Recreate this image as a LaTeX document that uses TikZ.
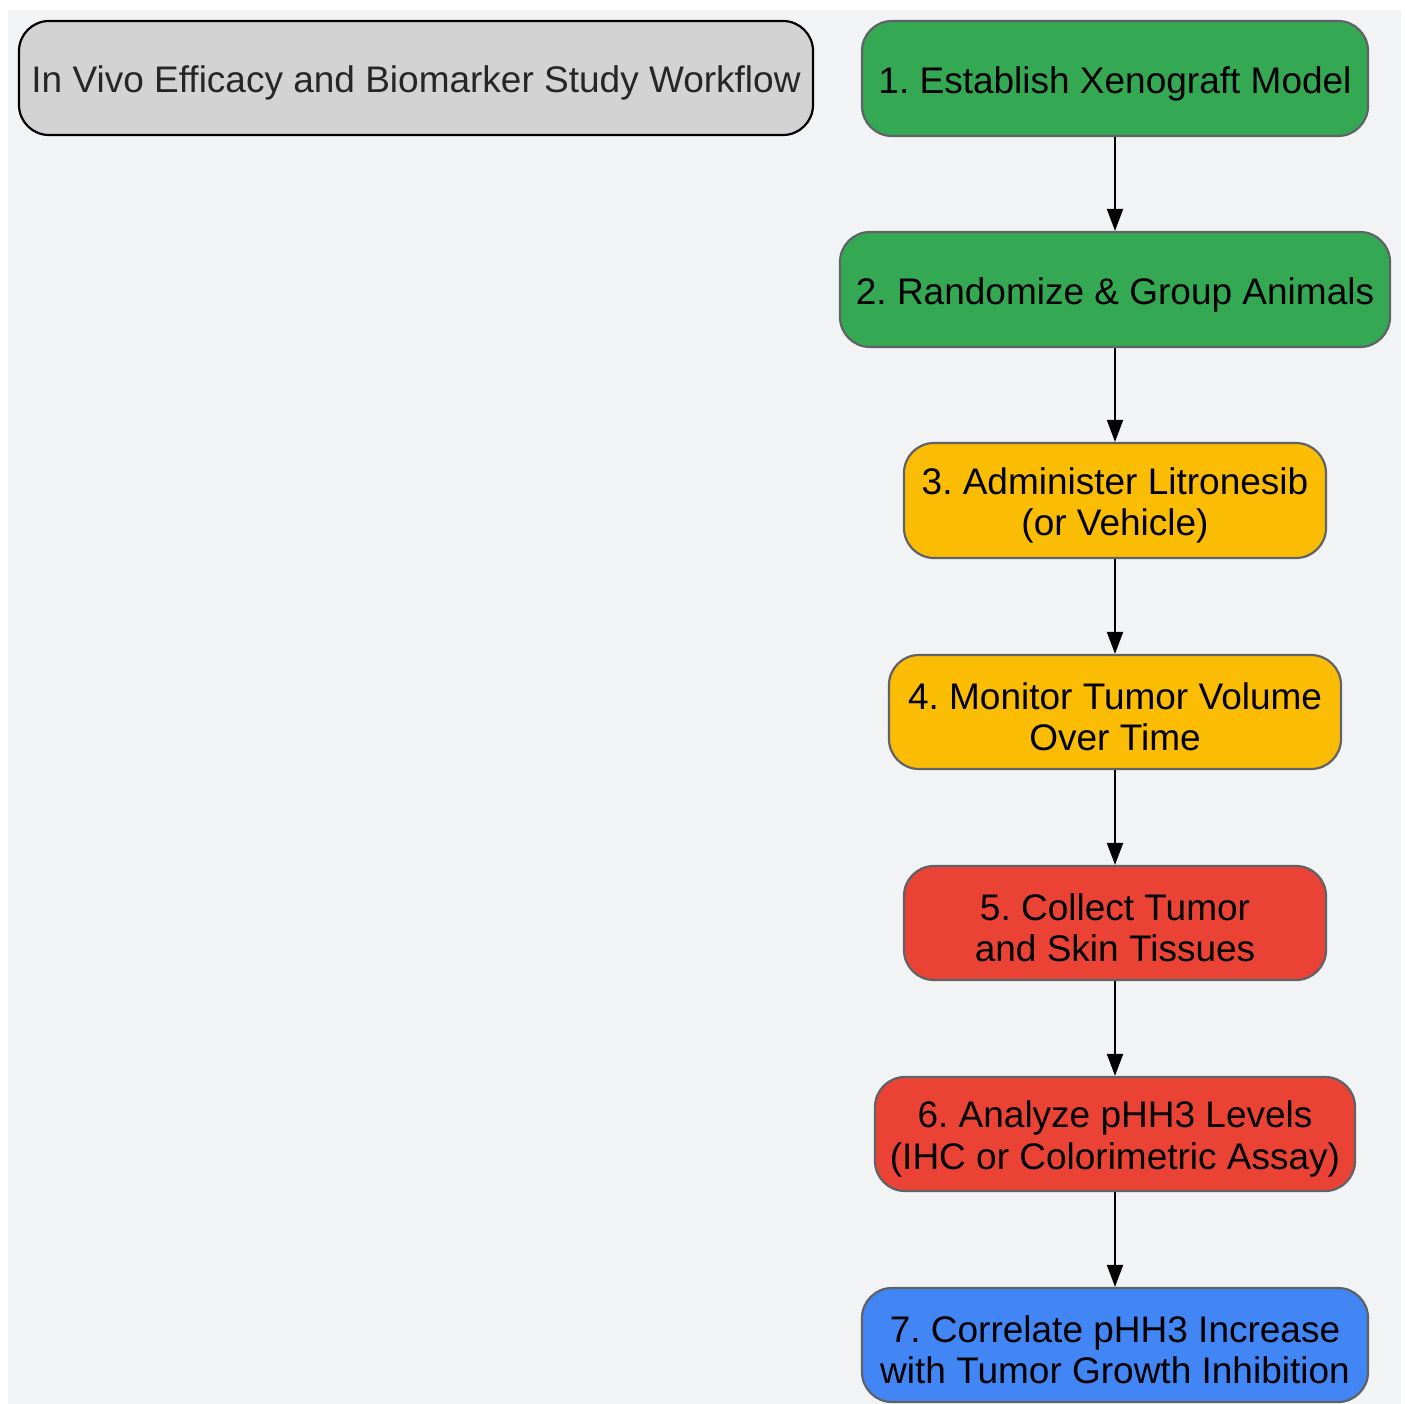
\documentclass[tikz,border=0pt]{standalone}
\usepackage{fontspec}
\setmainfont{Liberation Sans}
\usetikzlibrary{arrows.meta}
\frenchspacing
\definecolor{bgc}{HTML}{F1F3F4}
\definecolor{titlefill}{HTML}{D3D3D3}
\definecolor{titletext}{HTML}{262626}
\definecolor{gborder}{HTML}{5F6368}
\definecolor{cgreen}{HTML}{34A853}
\definecolor{cyellow}{HTML}{FBBC04}
\definecolor{cred}{HTML}{EA4335}
\definecolor{cblue}{HTML}{4285F4}
\tikzset{
  stepbox/.style={draw=gborder, line width=2.2pt, rounded corners=30pt, inner sep=0pt},
  titlebox/.style={draw=black, line width=2.2pt, rounded corners=30pt, fill=titlefill, inner sep=0pt},
  steptext/.style={align=center, font=\fontsize{37}{41.5}\selectfont, text=black, inner sep=0pt, yshift=-5pt},
  titletxt/.style={steptext, text=titletext},
  flow/.style={draw=black, line width=2pt, -{Triangle[length=22pt,width=16pt]}}
}
\begin{document}
\begin{tikzpicture}[x=1pt,y=-1pt]
\useasboundingbox (0,0) rectangle (1405,1404);
\fill[bgc] (8,10) rectangle (1401,1404);
\node[titlebox, minimum width=794pt, minimum height=114pt] (title) at (416,78) {};
\node[titletxt] (titlet) at (title.center) {In Vivo Efficacy and Biomarker Study Workflow};
\node[stepbox, fill=cgreen, minimum width=506pt, minimum height=115pt] (s1) at (1115,78.5) {};
\node[stepbox, fill=cgreen, minimum width=550pt, minimum height=115pt] (s2) at (1115,289.5) {};
\node[stepbox, fill=cyellow, minimum width=422pt, minimum height=115pt] (s3) at (1115,500.5) {};
\node[stepbox, fill=cyellow, minimum width=452pt, minimum height=114pt] (s4) at (1115,712) {};
\node[stepbox, fill=cred, minimum width=422pt, minimum height=114pt] (s5) at (1115,923) {};
\node[stepbox, fill=cred, minimum width=480pt, minimum height=114pt] (s6) at (1115,1134) {};
\node[stepbox, fill=cblue, minimum width=506pt, minimum height=114pt] (s7) at (1115,1345) {};
\node[steptext] (t1) at (s1.center) {1. Establish Xenograft Model};
\node[steptext] (t2) at (s2.center) {2. Randomize \& Group Animals};
\node[steptext] (t3) at (s3.center) {3. Administer Litronesib\\(or Vehicle)};
\node[steptext] (t4) at (s4.center) {4. Monitor Tumor Volume\\Over Time};
\node[steptext] (t5) at (s5.center) {5. Collect Tumor\\and Skin Tissues};
\node[steptext] (t6) at (s6.center) {6. Analyze pHH3 Levels\\(IHC or Colorimetric Assay)};
\node[steptext] (t7) at (s7.center) {7. Correlate pHH3 Increase\\with Tumor Growth Inhibition};
\draw[flow] (s1) -- (s2);
\draw[flow] (s2) -- (s3);
\draw[flow] (s3) -- (s4);
\draw[flow] (s4) -- (s5);
\draw[flow] (s5) -- (s6);
\draw[flow] (s6) -- (s7);
\end{tikzpicture}
\end{document}
